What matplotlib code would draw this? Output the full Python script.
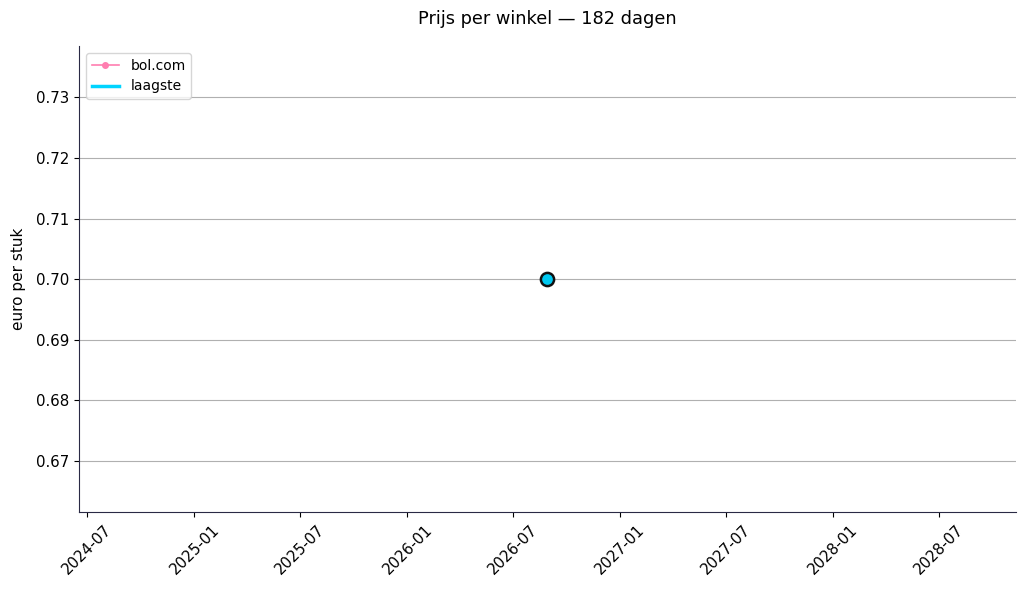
import matplotlib
matplotlib.use("Agg")
import matplotlib.pyplot as plt
import matplotlib.dates as mdates
import pandas as pd

dates = pd.to_datetime(["2026-08-29"])
bol_prices = [0.70]
lowest_prices = [0.70]

fig, ax = plt.subplots(figsize=(10.26, 5.9), dpi=100)
ax.plot(dates, bol_prices, color="#ff7eb0", marker="o", markersize=4, linewidth=1.2, label="bol.com")
ax.plot(dates, lowest_prices, color="#00d4ff", linewidth=2.5, label="laagste")
ax.plot(dates, lowest_prices, linestyle="none", marker="o", markersize=9.5,
        markerfacecolor="#00c8f0", markeredgecolor="#111111", markeredgewidth=1.8)

ax.set_title("Prijs per winkel — 182 dagen", fontsize=12.8, pad=16)
ax.set_ylabel("euro per stuk", fontsize=11, labelpad=7)
ax.tick_params(labelsize=10.8)
ax.xaxis.set_major_formatter(mdates.DateFormatter("%Y-%m"))
ax.yaxis.grid(True, color="#b0b0b0", linewidth=0.8)
ax.set_axisbelow(True)
for s in ["top", "right"]:
    ax.spines[s].set_visible(False)
for s in ["left", "bottom"]:
    ax.spines[s].set_color("#2a2a45")
plt.setp(ax.get_xticklabels(), rotation=45, ha="center")
ax.legend(loc="upper left", fontsize=10)
fig.subplots_adjust(left=0.077, right=0.99, top=0.922, bottom=0.132)
fig.savefig("out.png", dpi=100)
